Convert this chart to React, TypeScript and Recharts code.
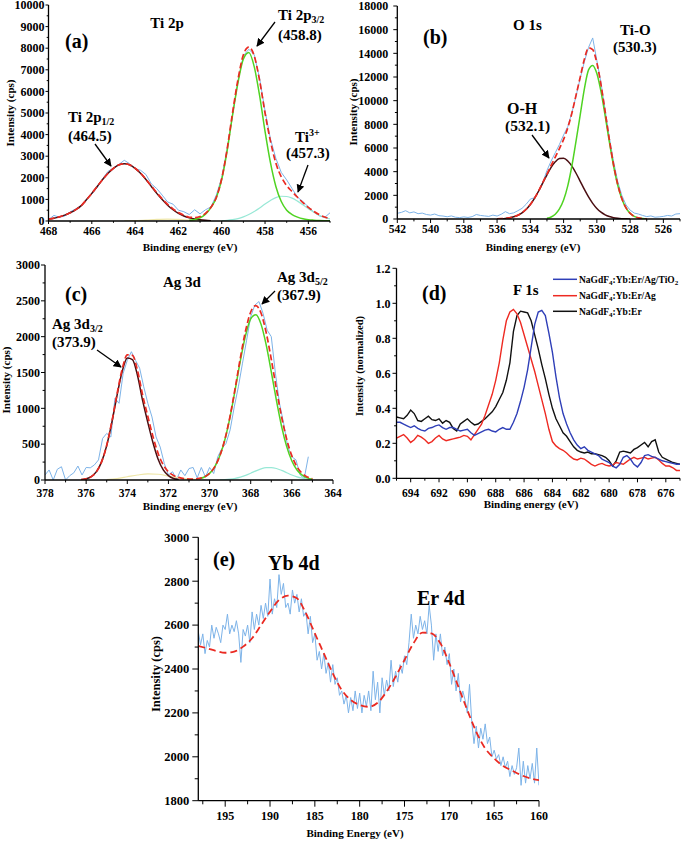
import React from 'react';
import { LineChart, Line, XAxis, YAxis } from 'recharts';

const SERIF = '"Liberation Serif", "Times New Roman", Times, serif';

const C_RAW = '#7db3e8';
const C_FIT = '#ea2a22';
const C_GREEN = '#4fd322';
const C_DARK = '#4a0e12';
const C_CYAN = '#98e8d6';
const C_PALE = '#eee6a8';
const C_BLUE = '#2f3fb8';
const C_RED = '#ee2a22';
const C_BLACK = '#111111';

// ---------- (a) Ti 2p : energies start / step, intensities (cps) ----------
const aRaw = [60, 260, 170, 230, 420, 560, 700, 1000, 1250, 1550, 1950, 2300, 2450, 2620, 2810, 2650, 2420, 2350, 2150, 1720, 1500, 1200, 880, 780, 500, 430, 300, 520, 330, 520, 650, 1200, 2000, 3350, 4900, 6500, 7650, 7950, 7700, 6600, 5100, 3800, 2900, 2250, 1900, 1500, 1100, 900, 650, 420, 240, 160, 380]; // 468 -> 455, 0.25
const aFit = [90, 130, 190, 270, 380, 520, 700, 980, 1280, 1600, 1920, 2210, 2440, 2600, 2650, 2600, 2440, 2220, 1930, 1620, 1310, 1030, 770, 560, 390, 270, 175, 160, 205, 350, 635, 1090, 1970, 3330, 5010, 6550, 7700, 8050, 7650, 6500, 5000, 3700, 2680, 2045, 1635, 1360, 1100, 850, 630, 450, 295, 185, 110]; // 468 -> 455
const aP12 = [90, 130, 190, 270, 380, 520, 700, 980, 1280, 1600, 1920, 2210, 2440, 2600, 2650, 2600, 2440, 2210, 1920, 1600, 1280, 990, 730, 520, 350, 230, 145, 90, 55, 30, 15]; // 468 -> 460.5
const aP32 = [30, 70, 150, 320, 620, 1080, 1930, 3250, 4900, 6400, 7500, 7800, 7150, 5800, 4150, 2700, 1600, 900, 500, 300, 180, 100, 60, 40, 25, 15, 10]; // 461.5 -> 455
const aTi3 = [17, 32, 62, 110, 190, 300, 440, 600, 790, 950, 1080, 1145, 1135, 1060, 920, 750, 570, 410, 270, 170, 100]; // 460 -> 455
const aMinor = [5, 20, 45, 75, 90, 75, 45, 20, 5]; // 464.5 -> 460.5, 0.5
const aXMajor = [456, 458, 460, 462, 464, 466, 468];
const aXMinor = [455, 457, 459, 461, 463, 465, 467];
const aYMajor = [0, 1000, 2000, 3000, 4000, 5000, 6000, 7000, 8000, 9000, 10000];
const aYMinor = [500, 1500, 2500, 3500, 4500, 5500, 6500, 7500, 8500, 9500];

// ---------- (b) O 1s ----------
const bRaw = [480, 560, 700, 520, 600, 450, 500, 380, 330, 420, 280, 250, 190, 260, 150, 120, 180, 130, 200, 380, 300, 260, 220, 330, 250, 400, 620, 450, 520, 700, 900, 1250, 1680, 1800, 2350, 3100, 4100, 4900, 5600, 6300, 7100, 7800, 9000, 10400, 11900, 13300, 14500, 15300, 13400, 11500, 9200, 6900, 4900, 3200, 2000, 1200, 750, 500, 420, 300, 200, 260, 150, 180, 220, 300, 250, 420, 450]; // 542 -> 525
const bFit = [12, 26, 52, 100, 183, 318, 524, 822, 1230, 1750, 2370, 3090, 3794, 4525, 5233, 5954, 6730, 7705, 8964, 10466, 11987, 13499, 14464, 14305, 13185, 11336, 9066, 6732, 4635, 2958, 1746, 955, 484, 224, 97, 38, 14]; // 536 -> 527
const bOH = [12, 26, 52, 100, 183, 318, 524, 822, 1229, 1748, 2366, 3047, 3734, 4355, 4833, 5104, 5130, 4905, 4464, 3866, 3187, 2499, 1864, 1325, 895, 576, 352, 206, 114, 60, 30, 15, 7]; // 536 -> 528
const bTiO = [60, 170, 400, 850, 1600, 2800, 4500, 6600, 8800, 11000, 12600, 12980, 12290, 10760, 8714, 6526, 4521, 2898, 1716, 940, 477, 224, 97, 38, 14]; // 533 -> 527
const bXMajor = [526, 528, 530, 532, 534, 536, 538, 540, 542];
const bXMinor = [525, 527, 529, 531, 533, 535, 537, 539, 541];
const bYMajor = [0, 2000, 4000, 6000, 8000, 10000, 12000, 14000, 16000, 18000];
const bYMinor = [1000, 3000, 5000, 7000, 9000, 11000, 13000, 15000, 17000];

// ---------- (c) Ag 3d ----------
const cRaw = [70, 140, 0, 150, 185, 0, 60, 100, 195, 70, 175, 170, 210, 280, 580, 650, 600, 1140, 1070, 1490, 1670, 1790, 1670, 1560, 1300, 1070, 880, 600, 460, 230, 70, 115, 10, 140, 60, 160, 175, 30, 175, 40, 175, 90, 325, 440, 510, 700, 1020, 1300, 1630, 1950, 2280, 2440, 2490, 2325, 2090, 2000, 1490, 1070, 790, 465, 325, 280, 70, 20, 325]; // 378 -> 365.2, 0.2
const cFit = [5, 17, 47, 116, 253, 485, 815, 1198, 1545, 1747, 1740, 1524, 1180, 885, 605, 370, 210, 115, 62, 36, 20, 14, 12, 22, 44, 92, 183, 339, 574, 897, 1291, 1708, 2083, 2344, 2433, 2330, 2060, 1683, 1270, 883, 568, 336, 184, 94, 43, 18]; // 376.25 -> 365
const cD32 = [5, 17, 47, 116, 253, 480, 804, 1178, 1512, 1702, 1680, 1454, 1103, 800, 520, 290, 140, 60, 20, 6]; // 376.25 -> 371.5
const cMinor = [5, 20, 45, 70, 85, 80, 55, 30, 12, 4]; // 375 -> 370.5, 0.5
const cD52 = [18, 42, 92, 183, 337, 569, 885, 1268, 1668, 2018, 2249, 2306, 2175, 1888, 1510, 1110, 749, 466, 266, 140, 68, 30, 12]; // 370.5 -> 365
const cSide = [2, 5, 12, 23, 40, 65, 95, 127, 155, 172, 173, 160, 134, 102, 70, 44, 26, 13, 6]; // 369.5 -> 365
const cXMajor = [364, 366, 368, 370, 372, 374, 376, 378];
const cXMinor = [365, 367, 369, 371, 373, 375, 377];
const cYMajor = [0, 500, 1000, 1500, 2000, 2500, 3000];
const cYMinor = [250, 750, 1250, 1750, 2250, 2750];

// ---------- (d) F 1s, normalized, 695 -> 675 step 0.25 ----------
const dTiO2 = [0.32, 0.32, 0.31, 0.3, 0.29, 0.3, 0.285, 0.275, 0.27, 0.285, 0.29, 0.3, 0.305, 0.29, 0.28, 0.29, 0.29, 0.28, 0.27, 0.275, 0.28, 0.26, 0.245, 0.255, 0.265, 0.275, 0.28, 0.27, 0.265, 0.28, 0.29, 0.28, 0.28, 0.32, 0.37, 0.44, 0.52, 0.62, 0.75, 0.88, 0.95, 0.96, 0.93, 0.83, 0.72, 0.58, 0.46, 0.37, 0.31, 0.26, 0.22, 0.19, 0.17, 0.18, 0.16, 0.15, 0.14, 0.13, 0.11, 0.1, 0.09, 0.07, 0.06, 0.08, 0.12, 0.13, 0.11, 0.08, 0.065, 0.09, 0.13, 0.135, 0.125, 0.12, 0.11, 0.1, 0.095, 0.09, 0.085, 0.08, 0.08];
const dAg = [0.23, 0.24, 0.25, 0.23, 0.205, 0.22, 0.245, 0.235, 0.22, 0.2, 0.21, 0.23, 0.245, 0.225, 0.215, 0.22, 0.225, 0.23, 0.235, 0.245, 0.24, 0.22, 0.25, 0.28, 0.31, 0.36, 0.42, 0.48, 0.56, 0.66, 0.79, 0.9, 0.95, 0.965, 0.94, 0.89, 0.82, 0.75, 0.68, 0.61, 0.53, 0.45, 0.37, 0.28, 0.21, 0.185, 0.17, 0.16, 0.145, 0.125, 0.11, 0.105, 0.115, 0.11, 0.095, 0.08, 0.07, 0.08, 0.085, 0.075, 0.07, 0.075, 0.09, 0.085, 0.08, 0.095, 0.11, 0.12, 0.11, 0.115, 0.12, 0.11, 0.115, 0.12, 0.105, 0.085, 0.07, 0.07, 0.06, 0.045, 0.045];
const dBare = [0.35, 0.345, 0.34, 0.36, 0.39, 0.37, 0.33, 0.325, 0.34, 0.355, 0.335, 0.33, 0.34, 0.315, 0.33, 0.32, 0.285, 0.27, 0.31, 0.325, 0.34, 0.32, 0.305, 0.31, 0.325, 0.34, 0.36, 0.38, 0.41, 0.45, 0.49, 0.56, 0.66, 0.84, 0.93, 0.955, 0.95, 0.945, 0.9, 0.82, 0.74, 0.65, 0.57, 0.48, 0.4, 0.34, 0.3, 0.26, 0.24, 0.21, 0.18, 0.16, 0.15, 0.145, 0.15, 0.14, 0.14, 0.135, 0.13, 0.12, 0.1, 0.07, 0.1, 0.15, 0.155, 0.15, 0.145, 0.165, 0.175, 0.19, 0.205, 0.18, 0.21, 0.22, 0.15, 0.12, 0.11, 0.1, 0.09, 0.085, 0.08];
const dXMajor = [676, 678, 680, 682, 684, 686, 688, 690, 692, 694];
const dXMinor = [675, 677, 679, 681, 683, 685, 687, 689, 691, 693, 695];
const dYMajor = [0, 0.2, 0.4, 0.6, 0.8, 1.0, 1.2];
const dYMinor = [0.1, 0.3, 0.5, 0.7, 0.9, 1.1];

// ---------- (e) Yb 4d / Er 4d ----------
const eRaw = [2570, 2510, 2560, 2470, 2530, 2500, 2600, 2540, 2590, 2560, 2520, 2600, 2580, 2650, 2560, 2600, 2570, 2620, 2560, 2430, 2580, 2550, 2600, 2520, 2660, 2580, 2650, 2600, 2690, 2630, 2700, 2640, 2810, 2650, 2720, 2680, 2830, 2740, 2790, 2680, 2700, 2650, 2760, 2700, 2740, 2660, 2720, 2640, 2660, 2560, 2640, 2520, 2560, 2440, 2480, 2400, 2470, 2380, 2430, 2340, 2420, 2330, 2360, 2280, 2300, 2240, 2280, 2200, 2270, 2210, 2300, 2220, 2290, 2200, 2280, 2230, 2300, 2210, 2390, 2260, 2340, 2200, 2360, 2280, 2350, 2300, 2440, 2320, 2390, 2340, 2420, 2380, 2460, 2420, 2520, 2650, 2540, 2600, 2560, 2640, 2580, 2620, 2560, 2690, 2600, 2440, 2560, 2480, 2560, 2460, 2500, 2420, 2470, 2330, 2400, 2300, 2380, 2250, 2300, 2260, 2200, 2330, 2160, 2060, 2140, 2040, 2130, 2080, 2150, 2060, 2090, 2000, 2030, 1990, 2010, 1960, 2000, 1950, 1980, 1910, 1960, 1920, 1950, 2040, 1870, 1980, 1880, 1960, 1900, 1970, 1880, 2040, 1870]; // 198 -> 160, 0.25
const eFit = [2505, 2494, 2482, 2474, 2479, 2502, 2540, 2600, 2661, 2714, 2734, 2722, 2654, 2562, 2471, 2380, 2304, 2259, 2236, 2228, 2246, 2297, 2365, 2441, 2517, 2566, 2562, 2517, 2426, 2320, 2213, 2114, 2038, 1993, 1958, 1937, 1917, 1902, 1894]; // 198 -> 160, 1
const eXMajor = [160, 165, 170, 175, 180, 185, 190, 195];
const eXMinor = [162.5, 167.5, 172.5, 177.5, 182.5, 187.5, 192.5, 197.5];
const eYMajor = [1800, 2000, 2200, 2400, 2600, 2800, 3000];
const eYMinor = [1900, 2100, 2300, 2500, 2700, 2900];

type Pt = { e: number; v: number };
const pts = (start: number, step: number, vals: number[]): Pt[] =>
  vals.map((v, i) => ({ e: Math.round((start + i * step) * 1000) / 1000, v }));

const isIn = (arr: number[], v: number) => arr.some((m) => Math.abs(m - v) < 1e-6);

function XTick(props: any) {
  const { x, y, payload, majors, len, off, size } = props;
  const major = isIn(majors, payload.value);
  return (
    <g>
      <line x1={x} x2={x} y1={y} y2={y + (major ? len : len * 0.6)} stroke="#000" strokeWidth={1} />
      {major ? (
        <text x={x} y={y + off} textAnchor="middle" fontFamily={SERIF} fontWeight={700} fontSize={size} fill="#000">
          {payload.value}
        </text>
      ) : null}
    </g>
  );
}

function YTick(props: any) {
  const { x, y, payload, majors, len, off, size, digits } = props;
  const major = isIn(majors, payload.value);
  return (
    <g>
      <line x1={x} x2={x - (major ? len : len * 0.6)} y1={y} y2={y} stroke="#000" strokeWidth={1} />
      {major ? (
        <text x={x - off} y={y + size * 0.35} textAnchor="end" fontFamily={SERIF} fontWeight={700} fontSize={size} fill="#000">
          {digits ? Number(payload.value).toFixed(digits) : payload.value}
        </text>
      ) : null}
    </g>
  );
}

type S = { data: Pt[]; color: string; w?: number; dash?: string; linear?: boolean };
type Cfg = {
  left: number; top: number; width: number; height: number;
  mTop: number; mRight: number; yWidth: number; xHeight: number;
  xDomain: [number, number]; yDomain: [number, number];
  xMajor: number[]; xMinor: number[]; yMajor: number[]; yMinor: number[];
  xOff: number; yOff: number; len: number; xSize: number; ySize: number; digits?: number;
  series: S[];
};

function Panel({ cfg }: { cfg: Cfg }) {
  const xt = [...cfg.xMajor, ...cfg.xMinor].sort((a, b) => a - b);
  const yt = [...cfg.yMajor, ...cfg.yMinor].sort((a, b) => a - b);
  return (
    <div style={{ position: 'absolute', left: cfg.left, top: cfg.top }}>
      <LineChart width={cfg.width} height={cfg.height} margin={{ top: cfg.mTop, right: cfg.mRight, bottom: 0, left: 0 }}>
        <XAxis
          type="number" dataKey="e" domain={cfg.xDomain} reversed allowDataOverflow
          ticks={xt} interval={0} height={cfg.xHeight}
          tickLine={false} tickSize={0} tickMargin={0}
          axisLine={{ stroke: '#000', strokeWidth: 1.3 }}
          tick={<XTick majors={cfg.xMajor} len={cfg.len} off={cfg.xOff} size={cfg.xSize} />}
        />
        <YAxis
          type="number" domain={cfg.yDomain} allowDataOverflow
          ticks={yt} interval={0} width={cfg.yWidth}
          tickLine={false} tickSize={0} tickMargin={0}
          axisLine={{ stroke: '#000', strokeWidth: 1.3 }}
          tick={<YTick majors={cfg.yMajor} len={cfg.len} off={cfg.yOff} size={cfg.ySize} digits={cfg.digits} />}
        />
        {cfg.series.map((s, i) => (
          <Line
            key={i} data={s.data} dataKey="v" type={s.linear ? 'linear' : 'monotone'}
            stroke={s.color} strokeWidth={s.w ?? 1.3} strokeDasharray={s.dash}
            dot={false} activeDot={false} isAnimationActive={false}
          />
        ))}
      </LineChart>
    </div>
  );
}

const panelA: Cfg = {
  left: 0, top: 0, width: 340, height: 250, mTop: 5, mRight: 10, yWidth: 48.5, xHeight: 29,
  xDomain: [455, 468], yDomain: [0, 10000],
  xMajor: aXMajor, xMinor: aXMinor, yMajor: aYMajor, yMinor: aYMinor,
  xOff: 13.5, yOff: 4, len: 3, xSize: 11.5, ySize: 12,
  series: [
    { data: pts(468, -0.25, aRaw), color: C_RAW, w: 1, linear: true },
    { data: pts(464.5, -0.5, aMinor), color: C_PALE, w: 1.2 },
    { data: pts(460, -0.25, aTi3), color: C_CYAN, w: 1.2 },
    { data: pts(468, -0.25, aP12), color: C_DARK, w: 1.5 },
    { data: pts(461.5, -0.25, aP32), color: C_GREEN, w: 1.5 },
    { data: pts(468, -0.25, aFit), color: C_FIT, w: 1.7, dash: '6 3' },
  ],
};

const panelB: Cfg = {
  left: 340, top: 0, width: 345, height: 250, mTop: 6, mRight: 5, yWidth: 57.3, xHeight: 31,
  xDomain: [525, 542], yDomain: [0, 18000],
  xMajor: bXMajor, xMinor: bXMinor, yMajor: bYMajor, yMinor: bYMinor,
  xOff: 14, yOff: 9, len: 4, xSize: 11.5, ySize: 12,
  series: [
    { data: pts(542, -0.25, bRaw), color: C_RAW, w: 1, linear: true },
    { data: pts(536, -0.25, bOH), color: C_DARK, w: 1.5 },
    { data: pts(533, -0.25, bTiO), color: C_GREEN, w: 1.5 },
    { data: pts(536, -0.25, bFit), color: C_FIT, w: 1.7, dash: '6 3' },
  ],
};

const panelC: Cfg = {
  left: 0, top: 250, width: 350, height: 260, mTop: 15, mRight: 17, yWidth: 45, xHeight: 30,
  xDomain: [364, 378], yDomain: [0, 3000],
  xMajor: cXMajor, xMinor: cXMinor, yMajor: cYMajor, yMinor: cYMinor,
  xOff: 17, yOff: 5, len: 4, xSize: 11.5, ySize: 12,
  series: [
    { data: pts(378, -0.2, cRaw), color: C_RAW, w: 1, linear: true },
    { data: pts(375, -0.5, cMinor), color: C_PALE, w: 1.2 },
    { data: pts(369.5, -0.25, cSide), color: C_CYAN, w: 1.2 },
    { data: pts(376.25, -0.25, cD32), color: C_DARK, w: 1.5 },
    { data: pts(370.5, -0.25, cD52), color: C_GREEN, w: 1.5 },
    { data: pts(376.25, -0.25, cFit), color: C_FIT, w: 1.7, dash: '6 3' },
  ],
};

const panelD: Cfg = {
  left: 340, top: 250, width: 345, height: 260, mTop: 18.3, mRight: 5, yWidth: 56.5, xHeight: 31.7,
  xDomain: [675, 695], yDomain: [0, 1.2],
  xMajor: dXMajor, xMinor: dXMinor, yMajor: dYMajor, yMinor: dYMinor, digits: 1,
  xOff: 18.5, yOff: 6, len: 4, xSize: 11.5, ySize: 12,
  series: [
    { data: pts(695, -0.25, dBare), color: C_BLACK, w: 1.4, linear: true },
    { data: pts(695, -0.25, dAg), color: C_RED, w: 1.4, linear: true },
    { data: pts(695, -0.25, dTiO2), color: C_BLUE, w: 1.4, linear: true },
  ],
};

const panelE: Cfg = {
  left: 140, top: 520, width: 416, height: 321, mTop: 17.3, mRight: 17, yWidth: 58.3, xHeight: 40.3,
  xDomain: [160, 198], yDomain: [1800, 3000],
  xMajor: eXMajor, xMinor: eXMinor, yMajor: eYMajor, yMinor: eYMinor,
  xOff: 19, yOff: 9, len: 6, xSize: 12, ySize: 12.5,
  series: [
    { data: pts(198, -0.25, eRaw), color: C_RAW, w: 1, linear: true },
    { data: pts(198, -1, eFit), color: C_FIT, w: 1.8, dash: '7 4' },
  ],
};

function Arrow({ x1, y1, x2, y2 }: { x1: number; y1: number; x2: number; y2: number }) {
  return <line x1={x1} y1={y1} x2={x2} y2={y2} stroke="#000" strokeWidth={1.3} markerEnd="url(#ah)" />;
}

function LegendRow({ y, color, parts }: { y: number; color: string; parts: string[] }) {
  return (
    <g>
      <line x1={553} x2={577} y1={y} y2={y} stroke={color} strokeWidth={1.5} />
      <text x={579} y={y + 3.5} fontSize={9.5}>
        {parts[0]}
        <tspan dy={2} fontSize={7}>4</tspan>
        <tspan dy={-2}>{parts[1]}</tspan>
        {parts[2] ? <tspan dy={2} fontSize={7}>{parts[2]}</tspan> : null}
      </text>
    </g>
  );
}

function Overlay() {
  return (
    <svg width={685} height={841} style={{ position: 'absolute', left: 0, top: 0, pointerEvents: 'none' }}
      fontFamily={SERIF} fontWeight={700} fill="#000">
      <defs>
        <marker id="ah" viewBox="0 0 10 10" refX="9" refY="5" markerUnits="userSpaceOnUse" markerWidth="8" markerHeight="8" orient="auto">
          <path d="M0,0 L10,5 L0,10 z" fill="#000" />
        </marker>
      </defs>

      {/* axis titles */}
      <g fontSize={11}>
        <text transform="translate(14,113) rotate(-90)" textAnchor="middle">Intensity (cps)</text>
        <text x={190} y={251} textAnchor="middle">Binding energy (eV)</text>
        <text transform="translate(357,112) rotate(-90)" textAnchor="middle">Intensity (cps)</text>
        <text x={533} y={251} textAnchor="middle">Binding energy (eV)</text>
        <text transform="translate(10,380) rotate(-90)" textAnchor="middle">Intensity (cps)</text>
        <text x={190} y={510} textAnchor="middle">Binding energy (eV)</text>
        <text transform="translate(363,366) rotate(-90)" fontSize={10.5} textAnchor="middle">Intensity (normalized)</text>
        <text x={531} y={508} textAnchor="middle">Binding energy (eV)</text>
        <text transform="translate(160,674) rotate(-90)" fontSize={12.5} textAnchor="middle">Intensity (cps)</text>
        <text x={355} y={837} textAnchor="middle">Binding Energy (eV)</text>
      </g>

      {/* (a) */}
      <text x={167} y={28} fontSize={15} textAnchor="middle">Ti 2p</text>
      <text x={65} y={48} fontSize={20}>(a)</text>
      <text x={278} y={20} fontSize={15}>Ti 2p<tspan dy={3} fontSize={10}>3/2</tspan></text>
      <text x={278} y={40} fontSize={15}>(458.8)</text>
      <Arrow x1={275} y1={22} x2={257} y2={46} />
      <text x={68} y={122} fontSize={15}>Ti 2p<tspan dy={3} fontSize={10}>1/2</tspan></text>
      <text x={68} y={141} fontSize={15}>(464.5)</text>
      <Arrow x1={95} y1={144} x2={111} y2={166} />
      <text x={295} y={142} fontSize={15}>Ti<tspan dy={-6} fontSize={10}>3+</tspan></text>
      <text x={286} y={158} fontSize={15}>(457.3)</text>
      <Arrow x1={308} y1={165} x2={298} y2={192} />

      {/* (b) */}
      <text x={423} y={44} fontSize={20}>(b)</text>
      <text x={513} y={30} fontSize={15}>O 1s</text>
      <text x={620} y={35} fontSize={15}>Ti-O</text>
      <text x={613} y={52} fontSize={15}>(530.3)</text>
      <text x={507} y={114} fontSize={16}>O-H</text>
      <text x={505} y={131} fontSize={15.5}>(532.1)</text>
      <Arrow x1={532} y1={135} x2={549} y2={158} />

      {/* (c) */}
      <text x={65} y={301} fontSize={20}>(c)</text>
      <text x={163} y={287} fontSize={15}>Ag 3d</text>
      <text x={277} y={282} fontSize={15}>Ag 3d<tspan dy={3} fontSize={10}>5/2</tspan></text>
      <text x={277} y={300} fontSize={15}>(367.9)</text>
      <Arrow x1={275} y1={291} x2={262} y2={304} />
      <text x={52} y={329} fontSize={15}>Ag 3d<tspan dy={3} fontSize={10}>3/2</tspan></text>
      <text x={52} y={347} fontSize={15}>(373.9)</text>
      <Arrow x1={97} y1={350} x2={121} y2={367} />

      {/* (d) */}
      <text x={422} y={300} fontSize={20}>(d)</text>
      <text x={513} y={295} fontSize={15}>F 1s</text>
      <LegendRow y={279.3} color={C_BLUE} parts={['NaGdF', ':Yb:Er/Ag/TiO', '2']} />
      <LegendRow y={295.7} color={C_RED} parts={['NaGdF', ':Yb:Er/Ag']} />
      <LegendRow y={311.3} color={C_BLACK} parts={['NaGdF', ':Yb:Er']} />

      {/* (e) */}
      <text x={213} y={566} fontSize={20}>(e)</text>
      <text x={268} y={570} fontSize={20}>Yb 4d</text>
      <text x={417} y={605} fontSize={20}>Er 4d</text>
    </svg>
  );
}

export default function App() {
  return (
    <div style={{ position: 'absolute', left: 0, top: 0, width: 685, height: 841, background: '#fff' }}>
      <Panel cfg={panelA} />
      <Panel cfg={panelB} />
      <Panel cfg={panelC} />
      <Panel cfg={panelD} />
      <Panel cfg={panelE} />
      <Overlay />
    </div>
  );
}
